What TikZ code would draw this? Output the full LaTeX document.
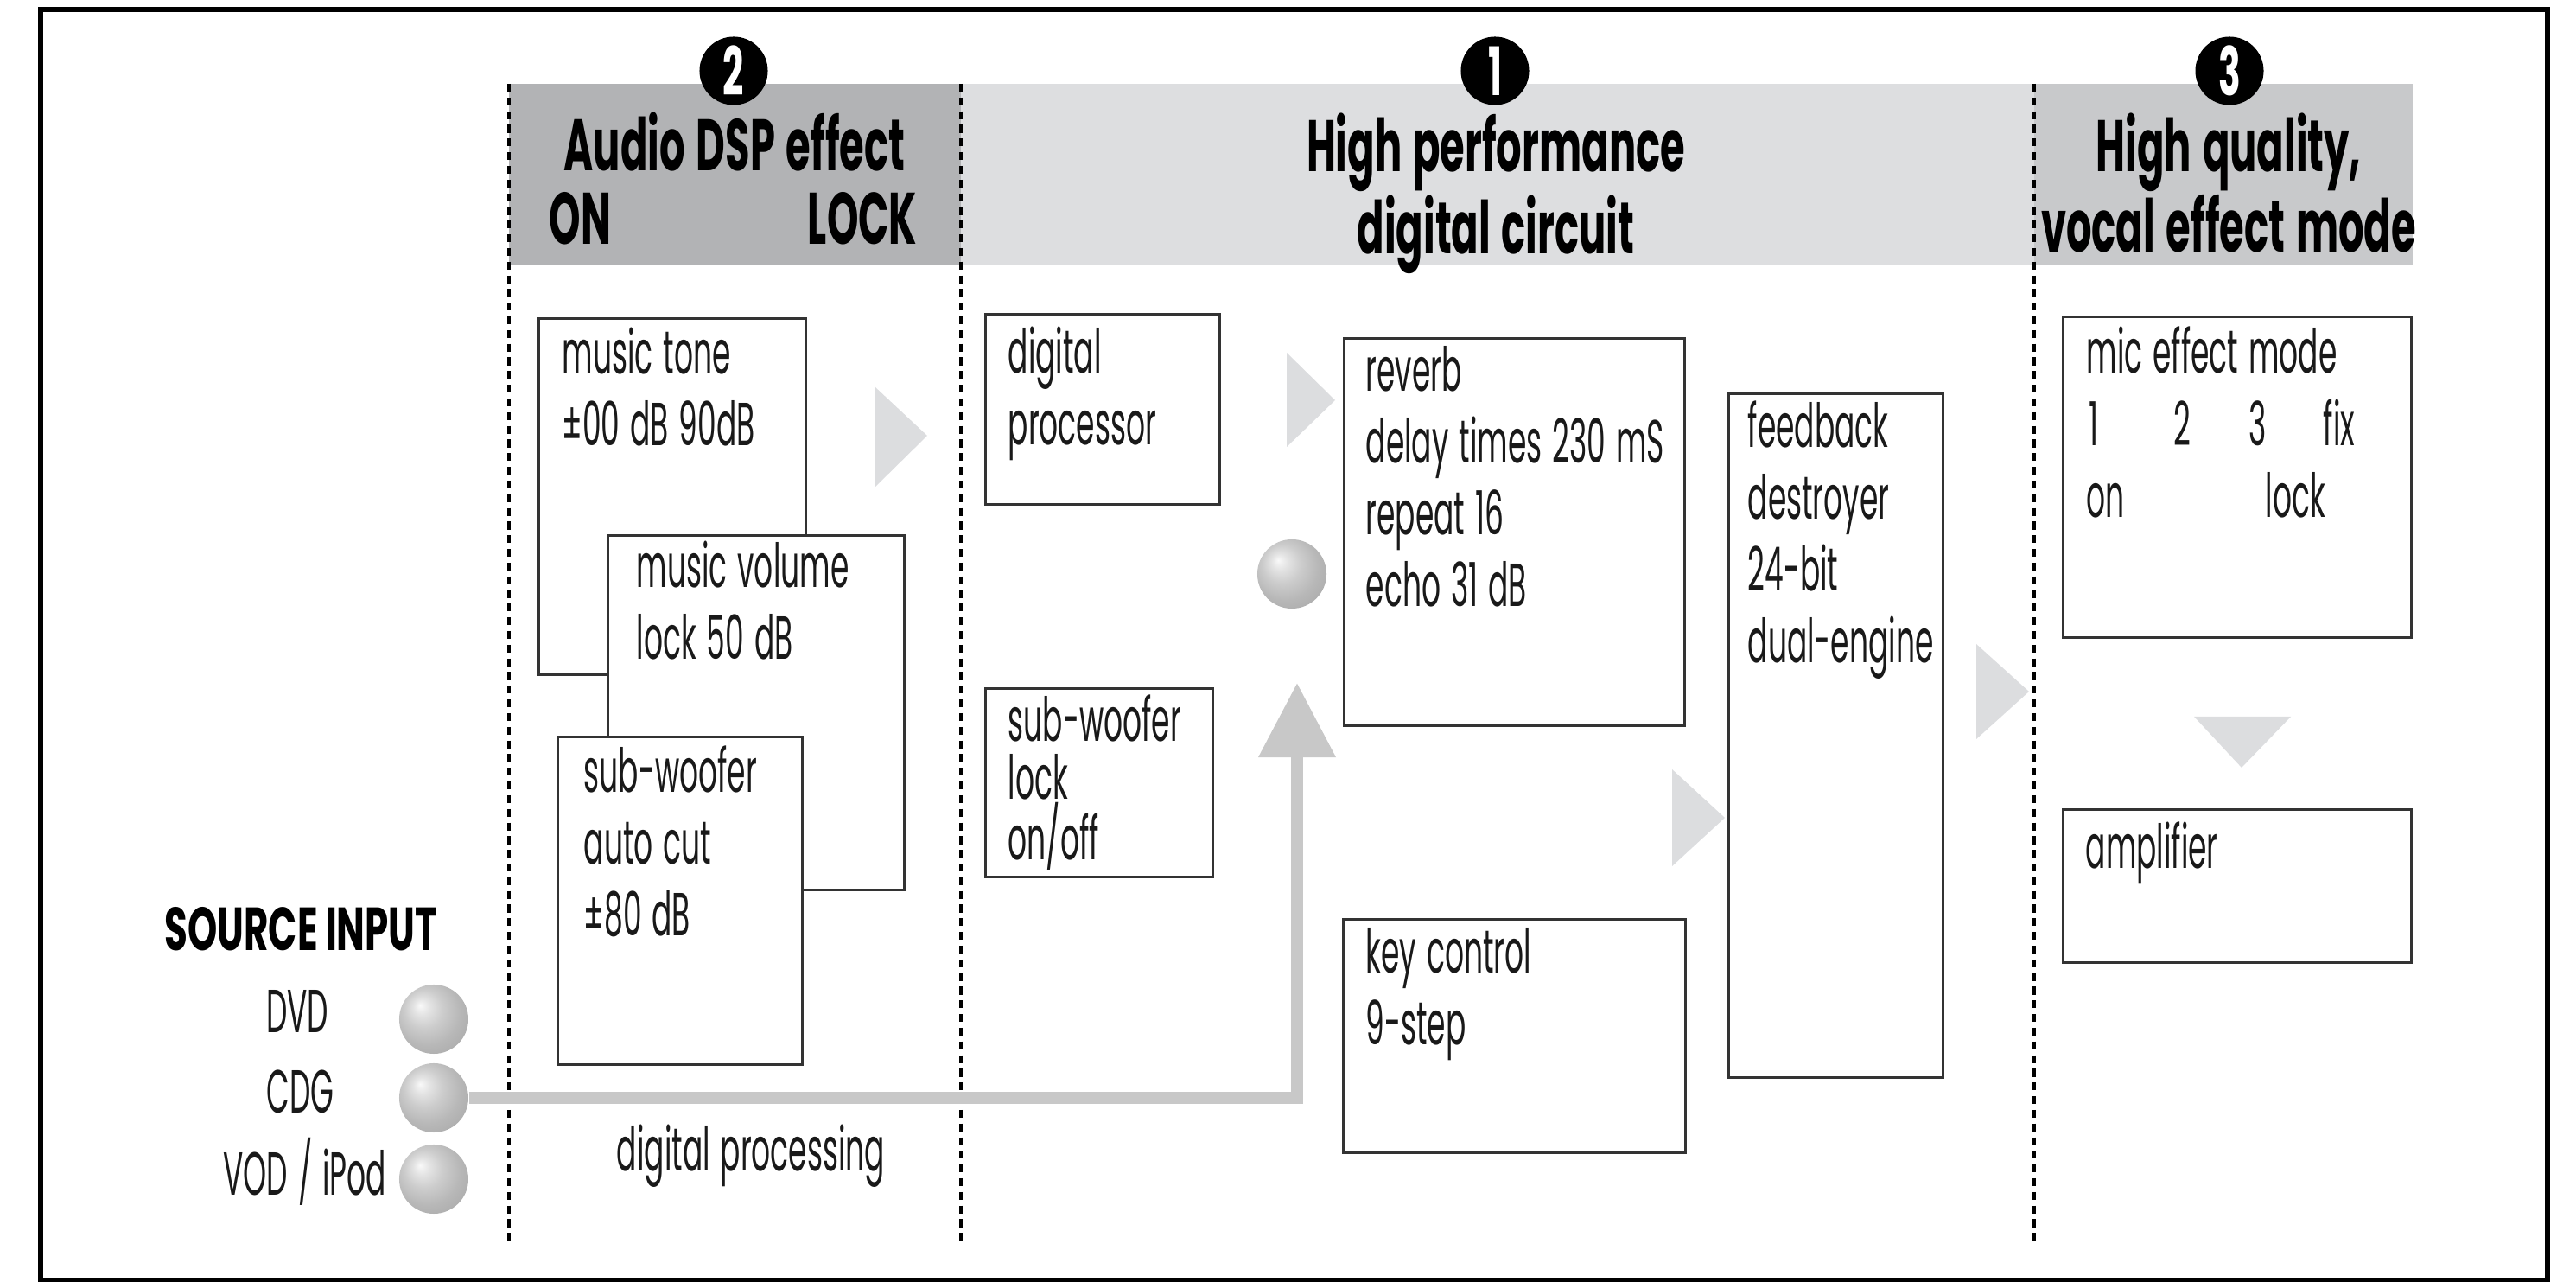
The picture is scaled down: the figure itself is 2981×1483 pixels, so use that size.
\documentclass[tikz,border=0pt]{standalone}
\usepackage{fontspec}
\setmainfont{Poppins}[FakeStretch=0.49,WordSpace=1.3,BoldFeatures={FakeStretch=0.55}]
\newfontfamily\srcfont{Poppins}[FakeStretch=0.62]
\usetikzlibrary{calc,arrows.meta}
\definecolor{bandtwo}{HTML}{B2B3B5}
\definecolor{bandone}{HTML}{DDDEE0}
\definecolor{bandthree}{HTML}{C8C9CB}
\definecolor{chevron}{HTML}{DCDDDF}
\definecolor{feedgray}{HTML}{C8C8C8}
\pgfdeclareradialshading{knob}{\pgfqpoint{-10bp}{10bp}}{color(0bp)=(gray!5); color(6bp)=(gray!22); color(14bp)=(gray!40); color(24bp)=(gray!56); color(36bp)=(gray!68); color(50bp)=(gray!82)}
\newcommand\bodyfont{\fontsize{20}{23.6}\selectfont}
\newcommand\tightfont{\fontsize{20}{18.8}\selectfont}
\newcommand\headfont{\fontsize{24}{23.9}\selectfont\bfseries}
\newcommand\numfont{\fontsize{22}{22}\selectfont\bfseries}

\begin{document}
\begin{tikzpicture}[x=0.01cm,y=-0.01cm,
  box/.style={draw=black!80,line width=0.85pt,fill=white,inner sep=0pt,anchor=north west},
  txt/.style={inner sep=0pt,anchor=base west,text width=5cm,align=flush left,font=\bodyfont,text=black!90},
  word/.style={inner sep=0pt,font=\bodyfont,text=black!90},
  head/.style={inner sep=0pt,anchor=base,text width=6cm,align=flush center,font=\headfont},
  num/.style={circle,fill=black,text=white,minimum size=0.79cm,inner sep=0pt,font=\numfont},
  ball/.style={circle,minimum size=0.8cm,inner sep=0pt,shading=knob},
  sep/.style={line width=1.2pt,dash pattern=on 2.6pt off 1.9pt},
  feed/.style={draw=feedgray,line width=4pt,-{Triangle[width=0.86cm,length=0.86cm]}}]
\useasboundingbox (0,0) rectangle (2981,1483);
\draw[line width=1.5pt] (47,11) rectangle (2948,1481);

\fill[bandtwo] (589,97) rectangle (1112,307);
\fill[bandone] (1112,97) rectangle (2354,307);
\fill[bandthree] (2354,97) rectangle (2792,307);
\foreach \x in {589,1112,2354}
  \draw[sep] (\x,97) -- (\x,1440);

\node[num] (n2) at (849,82) {2};
\node[num] (n1) at (1730,82) {1};
\node[num] (n3) at (2580,82) {3};
\node[head] (dsp) at (850,198) {Audio DSP effect};
\node[inner sep=0pt,anchor=base west,font=\headfont] (on) at (635,283) {ON};
\node[inner sep=0pt,anchor=base east,font=\headfont] (lock) at (1062,283) {LOCK};
\node[head] (perf) at (1731,199) {High performance\\digital circuit};
\node[head] (qual) at (2579,199) {High quality,\\vocal effect mode};

\node[box,minimum width=3.09cm,minimum height=4.12cm] (tone) at (622,367) {};
\node[txt] (tonet) at ($(tone.north west)+(28,66)$) {music tone\\±00 dB 90dB};
\node[box,minimum width=3.43cm,minimum height=4.10cm] (vol) at (702,618) {};
\node[txt] (volt) at ($(vol.north west)+(34,62)$) {music volume\\lock 50 dB};
\node[box,minimum width=2.83cm,minimum height=3.79cm] (woof) at (644,851) {};
\node[txt] (wooft) at ($(woof.north west)+(31,66)$) {sub-woofer\\auto cut\\±80 dB};
\node[word,anchor=base] (dproc) at (869,1355) {digital processing};

\node[box,minimum width=2.71cm,minimum height=2.20cm] (proc) at (1139,362) {};
\node[txt] (proct) at ($(proc.north west)+(27,70)$) {digital\\processor};
\node[box,minimum width=2.63cm,minimum height=2.18cm] (sublock) at (1139,795) {};
\node[txt,font=\tightfont] (sublockt) at ($(sublock.north west)+(27,63)$) {sub-woofer\\lock\\on/off};
\node[box,minimum width=3.94cm,minimum height=4.48cm] (rev) at (1554,390) {};
\node[txt] (revt) at ($(rev.north west)+(26,63)$) {reverb\\delay times 230 mS\\repeat 16\\echo 31 dB};
\node[box,minimum width=3.96cm,minimum height=2.70cm] (key) at (1553,1062) {};
\node[txt] (keyt) at ($(key.north west)+(27,64)$) {key control\\9-step};
\node[box,minimum width=2.48cm,minimum height=7.91cm] (fb) at (1999,454) {};
\node[txt] (fbt) at ($(fb.north west)+(23,64)$) {feedback\\destroyer\\24-bit\\dual-engine};

\node[box,minimum width=4.03cm,minimum height=3.71cm] (mic) at (2386,365) {};
\node[txt] (mict) at ($(mic.north west)+(28,67)$) {mic effect mode};
\node[word,anchor=base west] (m1) at ($(mic.north west)+(31,151)$) {1};
\node[word,anchor=base west] (m2) at ($(mic.north west)+(129,151)$) {2};
\node[word,anchor=base west] (m3) at ($(mic.north west)+(216,151)$) {3};
\node[word,anchor=base west] (mfix) at ($(mic.north west)+(302,151)$) {fix};
\node[word,anchor=base west] (mon) at ($(mic.north west)+(28,234)$) {on};
\node[word,anchor=base west] (mlock) at ($(mic.north west)+(235,234)$) {lock};
\node[box,minimum width=4.03cm,minimum height=1.77cm] (amp) at (2386,935) {};
\node[txt] (ampt) at ($(amp.north west)+(27,70)$) {amplifier};

\fill[chevron] (1013,448) -- (1073,504) -- (1013,563) -- cycle;
\fill[chevron] (1489,408) -- (1545,463) -- (1489,517) -- cycle;
\fill[chevron] (1935,890) -- (1996,946) -- (1935,1002) -- cycle;
\fill[chevron] (2287,745) -- (2348,800) -- (2287,855) -- cycle;
\fill[chevron] (2539,829) -- (2651,829) -- (2594,888) -- cycle;

\node[inner sep=0pt,anchor=base west,font=\fontsize{20}{20}\selectfont\srcfont\bfseries] (src) at (190,1100) {SOURCE INPUT};
\node[ball] (dvd) at (502,1179) {};
\node[ball] (cdg) at (502,1270) {};
\node[ball] (vod) at (502,1364) {};
\node[word,anchor=base east] (dvdt) at (381,1195) {DVD};
\node[word,anchor=base east] (cdgt) at (387,1288) {CDG};
\node[word,anchor=base east] (vodt) at (448,1383) {VOD / iPod};
\coordinate (tip) at (1501,790);
\draw[feed] (cdg.east) -| (tip);
\node[ball] (knob) at (1495,664) {};
\end{tikzpicture}
\end{document}
